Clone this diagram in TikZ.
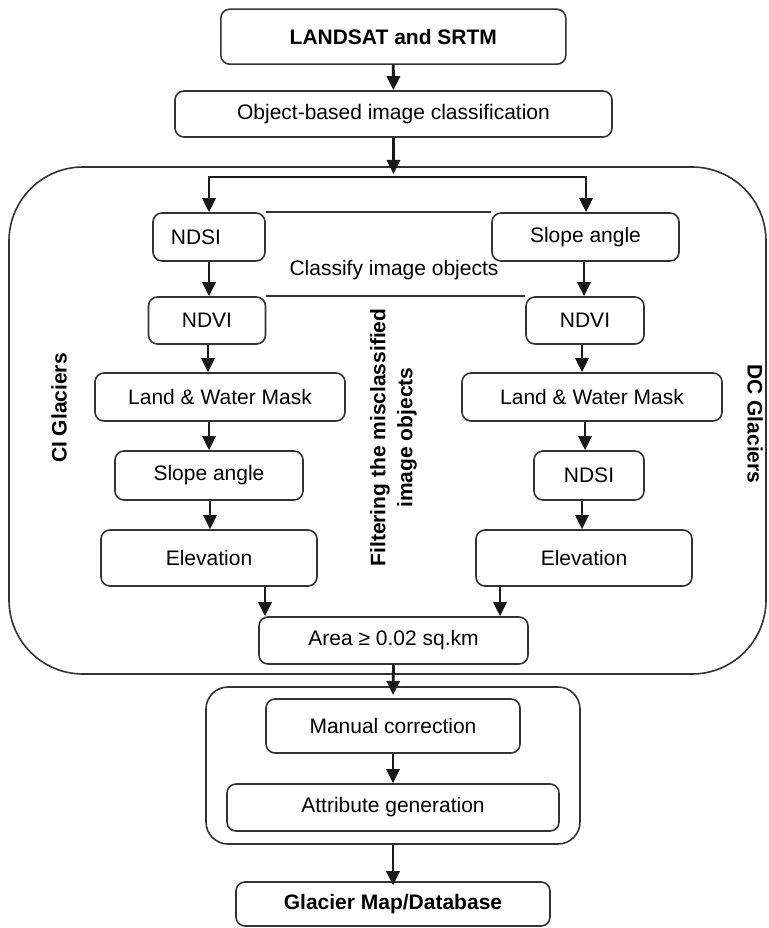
\documentclass[tikz,border=0pt]{standalone}
\usepackage{fontspec}
\setmainfont{Liberation Sans}
\usetikzlibrary{arrows.meta,calc}
\tikzset{
  box/.style={draw=black!80, line width=1.6pt, rounded corners=9pt, inner sep=0pt,
    font=\fontsize{21}{25}\selectfont},
  boldbox/.style={box, font=\fontsize{21}{25}\selectfont\bfseries},
  arr/.style={draw=black!90, line width=2.8pt, -{Triangle[width=13pt,length=14pt]}},
  plain/.style={draw=black!90, line width=2.8pt},
  thinline/.style={draw=black!80, line width=1.6pt},
  lbl/.style={font=\fontsize{21}{25}\selectfont, inner sep=0pt},
  blbl/.style={font=\fontsize{21}{27}\selectfont\bfseries, inner sep=0pt, align=center}
}
\begin{document}
\begin{tikzpicture}[x=1pt,y=-1pt]
\useasboundingbox (0,0) rectangle (768,928);
\fill[white] (0,0) rectangle (768,928);

% group frames
\draw[thinline, rounded corners=74pt] (9,167) rectangle (766,674);
\draw[thinline, rounded corners=22pt] (206,687) rectangle (580,844);

% boxes
\node[boldbox, minimum width=345pt, minimum height=55pt] (land) at (393.3,36.7) {LANDSAT and SRTM};
\node[box, minimum width=437pt, minimum height=46pt] (obj) at (393.5,114) {Object-based image classification};

\node[box, minimum width=112pt, minimum height=48pt, label={[lbl,xshift=-13pt]center:NDSI}] (ndsiL) at (209,237) {};
\node[box, minimum width=187pt, minimum height=48pt] (slopeR) at (585.5,237) {Slope angle};

\node[box, minimum width=117pt, minimum height=47pt] (ndviL) at (207,320.5) {NDVI};
\node[box, minimum width=118pt, minimum height=47pt] (ndviR) at (585,320.5) {NDVI};

\node[box, minimum width=250pt, minimum height=48pt] (lwL) at (220,397) {Land \& Water Mask};
\node[box, minimum width=260pt, minimum height=48pt] (lwR) at (592,397) {Land \& Water Mask};

\node[box, minimum width=188pt, minimum height=49pt] (slopeL) at (209,475.5) {Slope angle};
\node[box, minimum width=110pt, minimum height=49pt] (ndsiR) at (589,475.5) {NDSI};

\node[box, minimum width=216pt, minimum height=56pt] (elevL) at (209,558) {Elevation};
\node[box, minimum width=216pt, minimum height=56pt] (elevR) at (584,558) {Elevation};

\node[box, minimum width=269pt, minimum height=47pt] (area) at (393.5,640.5) {Area ≥ 0.02 sq.km};

\node[box, minimum width=254pt, minimum height=54pt] (manual) at (393,726) {Manual correction};
\node[box, minimum width=332pt, minimum height=47pt] (attr) at (393,807.5) {Attribute generation};
\node[boldbox, minimum width=314pt, minimum height=44pt] (glacier) at (393,904) {Glacier Map/Database};

% texts
\node[lbl] (classify) at (394,270) {Classify image objects};
\node[blbl, rotate=90] (ci) at (59,408) {CI Glaciers};
\node[blbl, rotate=-90] (dc) at (755,424) {DC Glaciers};
\node[blbl, rotate=90] (filt) at (393.5,437.5) {Filtering the misclassified\\image objects};

% band lines
\draw[thinline] (ndsiL.north east) -- (slopeR.north west);
\draw[thinline] (ndviL.north east) -- (ndviR.north west);

% helper coordinates
\coordinate (split) at (393.5,177);
\coordinate (splitL) at (209,177);
\coordinate (splitR) at (586,177);
\coordinate (bigin) at (393.5,174);
\coordinate (grpin) at (393,695);
\coordinate (grpout) at (393,844);
\coordinate (xL1) at (209,0);
\coordinate (xL2) at (208,0);
\coordinate (xL3) at (209,0);
\coordinate (xL4) at (210,0);
\coordinate (xL5) at (265,0);
\coordinate (xR1) at (584,0);
\coordinate (xR2) at (582,0);
\coordinate (xR3) at (585,0);
\coordinate (xR4) at (582,0);
\coordinate (xR5) at (500,0);

% arrows
\draw[arr] (land.south) -- (obj.north);
\draw[arr] (obj.south) -- (bigin);
\draw[plain] ([xshift=-1.4pt]splitL) -- ([xshift=1.4pt]splitR);
\draw[arr] (splitL) -- (splitL |- ndsiL.north);
\draw[arr] (splitR) -- (splitR |- slopeR.north);

\draw[arr] (xL1 |- ndsiL.south) -- (xL1 |- ndviL.north);
\draw[arr] (xR1 |- slopeR.south) -- (xR1 |- ndviR.north);
\draw[arr] (xL2 |- ndviL.south) -- (xL2 |- lwL.north);
\draw[arr] (xR2 |- ndviR.south) -- (xR2 |- lwR.north);
\draw[arr] (xL3 |- lwL.south) -- (xL3 |- slopeL.north);
\draw[arr] (xR3 |- lwR.south) -- (xR3 |- ndsiR.north);
\draw[arr] (xL4 |- slopeL.south) -- (xL4 |- elevL.north);
\draw[arr] (xR4 |- ndsiR.south) -- (xR4 |- elevR.north);
\draw[arr] (xL5 |- elevL.south) -- (xL5 |- area.north);
\draw[arr] (xR5 |- elevR.south) -- (xR5 |- area.north);

\draw[arr] (area.south) -- (grpin);
\draw[arr] (manual.south) -- (attr.north);
\draw[arr] (grpout) -- ([yshift=-4pt]glacier.north);
\end{tikzpicture}
\end{document}
